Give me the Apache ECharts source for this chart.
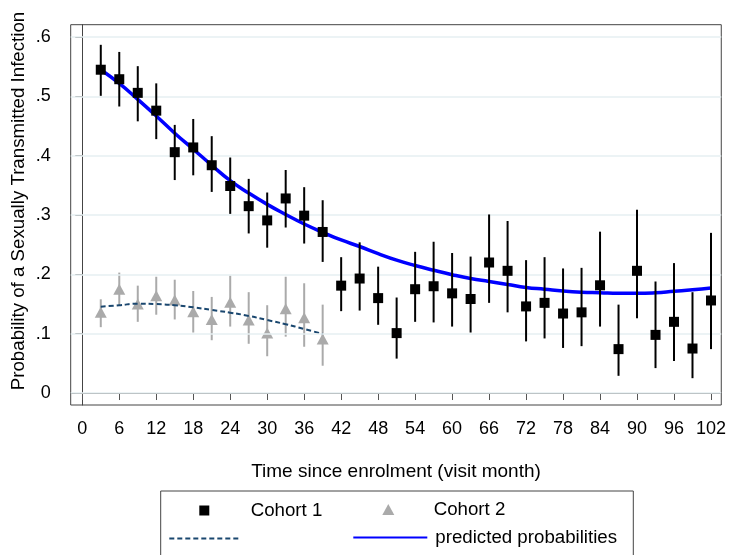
<!DOCTYPE html>
<html>
<head>
<meta charset="utf-8">
<script src="https://cdn.jsdelivr.net/npm/echarts@6/dist/echarts.min.js"></script>
<style>
html,body{margin:0;padding:0;background:#fff;}
#chart{width:729px;height:555px;}
</style>
</head>
<body>
<div id="chart"></div>
<script>
// ---- data ----
const months1 = [3,6,9,12,15,18,21,24,27,30,33,36,39,42,45,48,51,54,57,60,63,66,69,72,75,78,81,84,87,90,93,96,99,102];
const cohort1 = [0.545,0.529,0.506,0.476,0.406,0.414,0.384,0.349,0.315,0.291,0.328,0.299,0.2715,0.181,0.193,0.160,0.101,0.175,0.180,0.168,0.1585,0.220,0.206,0.146,0.152,0.134,0.136,0.1816,0.074,0.206,0.098,0.120,0.075,0.156];
const cohort1Lo = [0.501,0.483,0.458,0.428,0.359,0.367,0.339,0.302,0.269,0.245,0.279,0.252,0.221,0.138,0.139,0.115,0.058,0.120,0.119,0.112,0.102,0.152,0.136,0.087,0.092,0.076,0.079,0.112,0.029,0.126,0.042,0.054,0.025,0.074];
const cohort1Hi = [0.587,0.575,0.551,0.522,0.452,0.462,0.433,0.397,0.361,0.338,0.376,0.347,0.325,0.229,0.254,0.213,0.161,0.238,0.255,0.236,0.230,0.301,0.290,0.224,0.229,0.210,0.211,0.272,0.149,0.309,0.188,0.219,0.170,0.270];
const predicted1 = [0.545,0.522,0.495,0.467,0.438,0.411,0.384,0.358,0.337,0.318,0.301,0.285,0.271,0.258,0.247,0.235,0.224,0.215,0.207,0.1995,0.193,0.188,0.183,0.178,0.175,0.172,0.170,0.169,0.168,0.168,0.169,0.1715,0.174,0.177];

const months2 = [3,6,9,12,15,18,21,24,27,30,33,36,39];
const cohort2 = [0.136,0.175,0.150,0.164,0.157,0.137,0.124,0.153,0.123,0.101,0.142,0.127,0.091];
const cohort2Lo = [0.111,0.148,0.120,0.132,0.124,0.102,0.089,0.112,0.083,0.062,0.095,0.078,0.046];
const cohort2Hi = [0.158,0.203,0.181,0.196,0.191,0.172,0.162,0.198,0.170,0.148,0.196,0.185,0.149];
const predicted2 = [0.1456,0.148,0.1506,0.150,0.148,0.1445,0.140,0.1355,0.130,0.123,0.116,0.108,0.0995];

const xTicks = [0,6,12,18,24,30,36,42,48,54,60,66,72,78,84,90,96,102];
const yTicks = [0,0.1,0.2,0.3,0.4,0.5,0.6];
const yTickLabels = ['0','.1','.2','.3','.4','.5','.6'];

const xTitle = 'Time since enrolment (visit month)';
const yTitle = 'Probability of a Sexually Transmitted Infection';
const names = ['Cohort 1','Cohort 2','Cohort 2 fit','predicted probabilities'];

// ---- chart ----
const FONT = '"Liberation Sans", Arial, sans-serif';
const chart = echarts.init(document.getElementById('chart'), null, {renderer:'canvas'});

function errorBar(color){
  return function(params, api){
    const x = api.value(0), lo = api.value(1), hi = api.value(2);
    const p1 = api.coord([x, lo]);
    const p2 = api.coord([x, hi]);
    return {type:'line', shape:{x1:p1[0], y1:p1[1], x2:p2[0], y2:p2[1]},
            style:{stroke:color, lineWidth:2}};
  };
}

const option = {
  animation:false,
  backgroundColor:'#fff',
  grid:{left:70.7, top:24.7, right:6, bottom:150, show:true, borderColor:'#444', borderWidth:1, backgroundColor:'#fff'},
  xAxis:{
    type:'value', min:-1.88, max:103.67,
    axisLine:{show:true, lineStyle:{color:'#444', width:1}},
    axisTick:{show:true, length:7, customValues:xTicks, lineStyle:{color:'#555', width:1}},
    axisLabel:{customValues:xTicks, margin:15, color:'#000', fontFamily:FONT, fontSize:18},
    splitLine:{show:false},
    name:xTitle, nameLocation:'middle', nameGap:57,
    nameTextStyle:{color:'#000', fontFamily:FONT, fontSize:19}
  },
  yAxis:{
    type:'value', min:-0.0202, max:0.6209,
    axisLine:{show:true, lineStyle:{color:'#444', width:1}},
    axisTick:{show:true, length:7, customValues:yTicks, lineStyle:{color:'#555', width:1}},
    axisLabel:{customValues:yTicks, margin:20, color:'#000', fontFamily:FONT, fontSize:18,
      formatter:function(v){ const i = yTicks.findIndex(t=>Math.abs(t-v)<1e-6); return i>=0 ? yTickLabels[i] : ''; }},
    splitLine:{show:false}
  },
  graphic:[
    {type:'text', x:19, y:201, rotation:Math.PI/2,
     style:{text:yTitle, fill:'#000', font:'18.7px ' + FONT, textAlign:'center', textVerticalAlign:'middle'}},
    {type:'rect', shape:{x:160.7, y:491, width:472.6, height:90}, style:{fill:'none', stroke:'#444', lineWidth:1}, z:0}
  ],
  legend:[
    {left:199.3, top:501, padding:0, itemWidth:10, itemHeight:10, selectedMode:false,
     textStyle:{color:'#000', fontFamily:FONT, fontSize:18.7, padding:[0,0,0,36.4]},
     data:[{name:names[0], icon:'path://M0,0H10V10H0Z'}]},
    {left:382.3, top:500, padding:0, itemWidth:12.7, itemHeight:11, selectedMode:false,
     textStyle:{color:'#000', fontFamily:FONT, fontSize:18.7, padding:[0,0,0,34]},
     data:[{name:names[1], icon:'path://M6,0L12,11H0Z'}]},
    {left:168.3, top:528.5, padding:0, itemWidth:70, itemHeight:20, selectedMode:false,
     formatter:function(){return '';},
     textStyle:{color:'#000', fontFamily:FONT, fontSize:18.7},
     data:[{name:names[2], itemStyle:{opacity:0}}]},
    {left:352.3, top:528, padding:0, itemWidth:74, itemHeight:20, selectedMode:false,
     textStyle:{color:'#000', fontFamily:FONT, fontSize:18.7, padding:[0,0,0,3]},
     data:[{name:names[3], itemStyle:{opacity:0}}]}
  ],
  series:[
    {type:'line', name:'grid', data:[], silent:true, z:1,
     markLine:{silent:true, symbol:'none', label:{show:false}, animation:false,
       lineStyle:{color:'#e6eff2', width:1.5, type:'solid'},
       data:yTicks.map(v=>({yAxis:v}))}},
    {type:'custom', name:'c2err', z:2, renderItem:errorBar('#aaaaaa'),
     encode:{x:0, y:[1,2]},
     data:months2.map((m,i)=>[m, cohort2Lo[i], cohort2Hi[i]])},
    {type:'scatter', name:names[1], z:3, symbol:'triangle', symbolSize:[12,11],
     itemStyle:{color:'#aaaaaa', opacity:1},
     data:months2.map((m,i)=>[m, cohort2[i]])},
    {type:'line', name:names[2], z:4, symbol:'none', smooth:true,
     lineStyle:{color:'#1a476f', width:2, type:[5,3]},
     itemStyle:{color:'#1a476f'},
     data:months2.map((m,i)=>[m, predicted2[i]])},
    {type:'line', name:names[3], z:5, symbol:'none', smooth:true,
     lineStyle:{color:'#0000ff', width:3.5},
     itemStyle:{color:'#0000ff'},
     data:months1.map((m,i)=>[m, predicted1[i]])},
    {type:'custom', name:'c1err', z:6, renderItem:errorBar('#000000'),
     encode:{x:0, y:[1,2]},
     data:months1.map((m,i)=>[m, cohort1Lo[i], cohort1Hi[i]])},
    {type:'scatter', name:names[0], z:7, symbol:'rect', symbolSize:10,
     itemStyle:{color:'#000000', opacity:1},
     data:months1.map((m,i)=>[m, cohort1[i]])}
  ]
};
chart.setOption(option);
</script>
</body>
</html>
